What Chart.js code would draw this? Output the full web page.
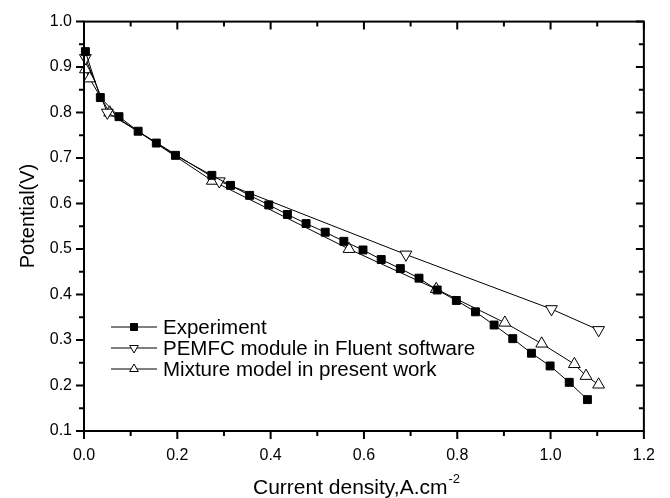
<!DOCTYPE html>
<html>
<head>
<meta charset="utf-8">
<script src="https://cdn.jsdelivr.net/npm/chart.js@4.4.0/dist/chart.umd.min.js"></script>
<style>
  html, body { margin: 0; padding: 0; background: #fff; }
  #wrap { width: 670px; height: 498px; }
</style>
</head>
<body>
<div id="wrap"><canvas id="polar-curve" width="670" height="498"></canvas></div>
<script>
// values
const expX = [0.003, 0.035, 0.075, 0.116, 0.155, 0.196, 0.274, 0.314, 0.355, 0.396, 0.436, 0.476, 0.517, 0.557,
  0.598, 0.637, 0.678, 0.718, 0.757, 0.798, 0.839, 0.879, 0.919, 0.959, 0.999, 1.04, 1.079];
const expY = [0.934, 0.833, 0.791, 0.759, 0.733, 0.706, 0.662, 0.64, 0.618, 0.597, 0.576, 0.556, 0.537, 0.517,
  0.498, 0.477, 0.457, 0.436, 0.41, 0.387, 0.362, 0.333, 0.303, 0.271, 0.243, 0.207, 0.169];

const fluentX = [0.003, 0.05, 0.29, 0.69, 1.002, 1.103];
const fluentY = [0.92, 0.80, 0.649, 0.488, 0.368, 0.322];

const mixX = [0.003, 0.012, 0.055, 0.275, 0.568, 0.755, 0.902, 0.981, 1.051, 1.076, 1.103];
const mixY = [0.895, 0.875, 0.80, 0.65, 0.50, 0.412, 0.338, 0.292, 0.247, 0.221, 0.202];

const seriesNames = ["Experiment", "PEMFC module in Fluent software", "Mixture model in present work"];
const xTitle = "Current density,A.cm";
const xTitleSup = "-2";
const yTitle = "Potential(V)";

const FONT = "'Liberation Sans', Arial, sans-serif";

function pts(xs, ys) {
  return xs.map((x, i) => ({ x: x, y: ys[i] }));
}

function drawMarker(ctx, style, x, y, r, fill) {
  ctx.beginPath();
  if (style === "rect") {
    ctx.rect(x - r, y - r, 2 * r, 2 * r);
  } else {
    const dir = style === "triDown" ? 1 : -1;
    ctx.moveTo(x, y + dir * r);
    ctx.lineTo(x - r * 0.866, y - dir * r * 0.5);
    ctx.lineTo(x + r * 0.866, y - dir * r * 0.5);
    ctx.closePath();
  }
  ctx.fillStyle = fill;
  ctx.fill();
  ctx.lineWidth = 1;
  ctx.strokeStyle = "#000";
  ctx.stroke();
}

// frame, ticks, axis titles and the legend
const framePlugin = {
  id: "frame",
  afterDraw(chart) {
    const ctx = chart.ctx;
    const a = chart.chartArea;
    const xs = chart.scales.x, ys = chart.scales.y;
    ctx.save();
    ctx.strokeStyle = "#000";
    ctx.lineWidth = 2;
    ctx.strokeRect(a.left, a.top, a.right - a.left, a.bottom - a.top);

    function tickSet(scale) {
      const vals = scale.ticks.map(t => t.value);
      const out = [];
      vals.forEach((v, i) => {
        out.push({ v: v, major: true });
        if (i < vals.length - 1) out.push({ v: (v + vals[i + 1]) / 2, major: false });
      });
      return out;
    }
    ctx.beginPath();
    tickSet(xs).forEach(t => {
      const px = xs.getPixelForValue(t.v);
      const len = t.major ? 8 : 5;
      ctx.moveTo(px, a.bottom); ctx.lineTo(px, a.bottom + len);
      ctx.moveTo(px, a.top); ctx.lineTo(px, a.top + len);
    });
    tickSet(ys).forEach(t => {
      const py = ys.getPixelForValue(t.v);
      const len = t.major ? 8 : 5;
      ctx.moveTo(a.left, py); ctx.lineTo(a.left - len, py);
      ctx.moveTo(a.right, py); ctx.lineTo(a.right - len, py);
    });
    ctx.stroke();

    // x title with superscript
    ctx.fillStyle = "#000";
    ctx.textBaseline = "alphabetic";
    ctx.font = "21px " + FONT;
    const w1 = ctx.measureText(xTitle).width;
    ctx.font = "13px " + FONT;
    const w2 = ctx.measureText(xTitleSup).width;
    const x0 = 356 - (w1 + w2) / 2;
    ctx.font = "21px " + FONT;
    ctx.textAlign = "left";
    ctx.fillText(xTitle, x0, 494);
    ctx.font = "13px " + FONT;
    ctx.fillText(xTitleSup, x0 + w1 + 1, 483);

    // y title
    ctx.save();
    ctx.translate(28, 216);
    ctx.rotate(-Math.PI / 2);
    ctx.font = "20px " + FONT;
    ctx.textAlign = "center";
    ctx.textBaseline = "middle";
    ctx.fillText(yTitle, 0, 0);
    ctx.restore();

    // legend inside the plot
    const rowY = [327, 348, 369];
    chart.data.datasets.forEach((ds, i) => {
      const y = rowY[i];
      ctx.beginPath();
      ctx.lineWidth = 1;
      ctx.strokeStyle = "#000";
      ctx.moveTo(111, y); ctx.lineTo(157, y);
      ctx.stroke();
      drawMarker(ctx, ds.markerKind, 134, y, ds.markerKind === "rect" ? 3.5 : 5, ds.pointBackgroundColor);
      ctx.fillStyle = "#000";
      ctx.font = "20.5px " + FONT;
      ctx.textAlign = "left";
      ctx.textBaseline = "middle";
      ctx.fillText(ds.label, 163, y + 1);
    });
    ctx.restore();
  }
};

new Chart(document.getElementById("polar-curve"), {
  type: "scatter",
  data: {
    datasets: [
      {
        label: seriesNames[0],
        data: pts(expX, expY),
        showLine: true,
        borderColor: "#000",
        borderWidth: 1,
        pointStyle: "rect",
        markerKind: "rect",
        pointRadius: 5.6,
        pointBackgroundColor: "#000",
        pointBorderColor: "#000",
        pointBorderWidth: 1,
      },
      {
        label: seriesNames[1],
        data: pts(fluentX, fluentY),
        showLine: true,
        borderColor: "#000",
        borderWidth: 1,
        pointStyle: "triangle",
        rotation: 180,
        markerKind: "triDown",
        pointRadius: 6.8,
        pointBackgroundColor: "#fff",
        pointBorderColor: "#000",
        pointBorderWidth: 1,
      },
      {
        label: seriesNames[2],
        data: pts(mixX, mixY),
        showLine: true,
        borderColor: "#000",
        borderWidth: 1,
        pointStyle: "triangle",
        markerKind: "triUp",
        pointRadius: 6.8,
        pointBackgroundColor: "#fff",
        pointBorderColor: "#000",
        pointBorderWidth: 1,
      },
    ],
  },
  options: {
    responsive: false,
    animation: false,
    clip: false,
    layout: { padding: { left: 0, top: 17, right: 23, bottom: 0 } },
    plugins: {
      legend: { display: false },
      tooltip: { enabled: false },
      title: { display: false },
    },
    scales: {
      x: {
        type: "linear",
        min: 0,
        max: 1.2,
        grid: { display: false, drawTicks: false },
        border: { display: false },
        ticks: {
          stepSize: 0.2,
          padding: 15,
          color: "#000",
          font: { family: FONT, size: 16 },
          callback: (v) => v.toFixed(1),
        },
        afterFit: (s) => { s.height = 67; },
      },
      y: {
        type: "linear",
        min: 0.1,
        max: 1.0,
        grid: { display: false, drawTicks: false },
        border: { display: false },
        ticks: {
          stepSize: 0.1,
          padding: 12,
          color: "#000",
          font: { family: FONT, size: 16 },
          callback: (v) => v.toFixed(1),
        },
        afterFit: (s) => { s.width = 84; },
      },
    },
  },
  plugins: [framePlugin],
});
</script>
</body>
</html>
